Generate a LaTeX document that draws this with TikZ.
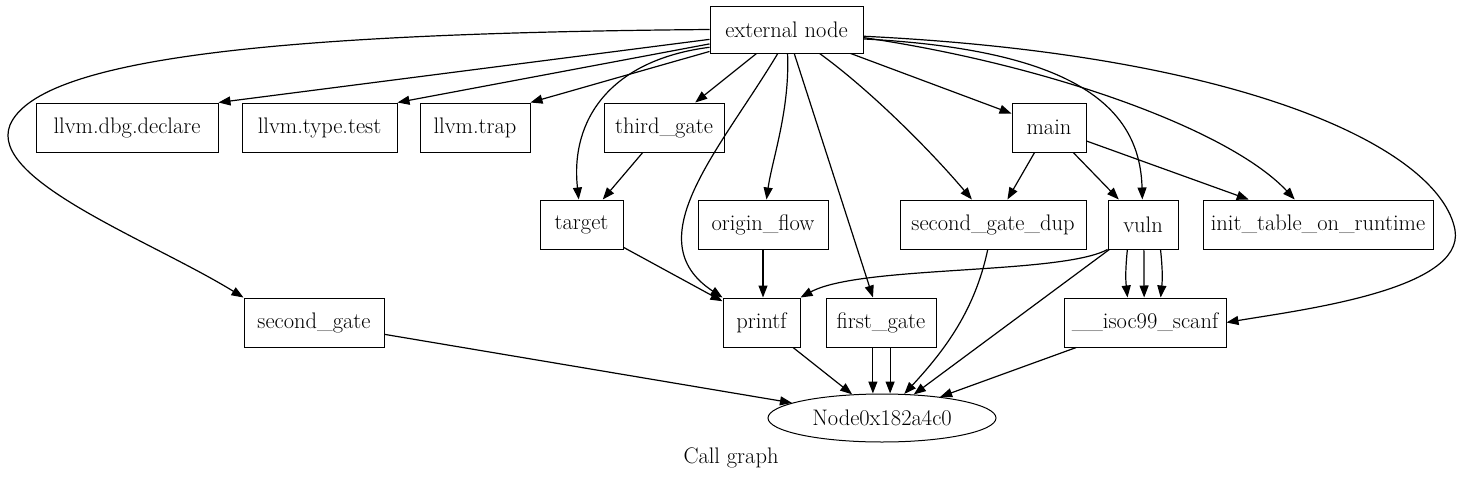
\documentclass[tikz,border=0pt]{standalone}
\usepackage{fontspec}
\usetikzlibrary{positioning}
\usetikzlibrary{shapes.geometric}
\usetikzlibrary{arrows.meta}

\begin{document}
\begin{tikzpicture}[x=1pt, y=-1pt, line width=1.2pt,
		>={Triangle[length=12pt, width=9pt]},
		fnbox/.style={draw, rectangle, line width=1pt, minimum height=49pt, inner sep=0pt, font=\fontsize{22.5}{27}\selectfont},
		call/.style={->}]
				\useasboundingbox (0,0) rectangle (1463,479);
				\node[fnbox, minimum width=153pt, minimum height=47pt] (ext) at (786.5,29.5) {external node};
				\node[fnbox, minimum width=182pt] (dbgdecl) at (127,127.5) {llvm.dbg.declare};
				\node[fnbox, minimum width=155pt] (typetest) at (319.5,127.5) {llvm.type.test};
				\node[fnbox, minimum width=110pt] (trap) at (475,127.5) {llvm.trap};
				\node[fnbox, minimum width=120pt] (thirdgate) at (664,127.5) {third\_gate};
				\node[fnbox, minimum width=74pt] (mainfn) at (1049,127.5) {main};
				\node[fnbox, minimum width=83pt] (target) at (581.5,224.5) {target};
				\node[fnbox, minimum width=130pt] (originflow) at (763,224.5) {origin\_flow};
				\node[fnbox, minimum width=186pt] (sgatedup) at (993,224.5) {second\_gate\_dup};
				\node[fnbox, minimum width=70pt] (vuln) at (1143,224.5) {vuln};
				\node[fnbox, minimum width=230pt] (inittable) at (1318,224.5) {init\_table\_on\_runtime};
				\node[fnbox, minimum width=140pt] (sgate) at (314,322.5) {second\_gate};
				\node[fnbox, minimum width=77pt] (printf) at (761.5,322.5) {printf};
				\node[fnbox, minimum width=110pt] (firstgate) at (881,322.5) {first\_gate};
				\node[fnbox, minimum width=162pt] (scanf) at (1145,322.5) {\_\_isoc99\_scanf};
				\node[draw, ellipse, line width=1pt, minimum width=228pt, minimum height=48pt, inner sep=0pt,
					font=\fontsize{22.5}{27}\selectfont] (sink) at (882,418) {Node0x182a4c0};
				\node[font=\fontsize{22.5}{27}\selectfont] (caption) at (731,458) {Call graph};

				\draw[call] (ext.west) .. controls (300,33) and (40,55) .. (10,125)
					.. controls (-12,180) and (150,240) .. (sgate.north west);
				\draw[call] (ext) -- (dbgdecl.north east);
				\draw[call] (ext) -- (typetest.north east);
				\draw[call] (ext) -- (trap.north east);
				\draw[call] (ext) -- (thirdgate);
				\draw[call] (ext.193) .. controls (610,60) and (570,120) .. (target);
				\draw[call] (ext.250) .. controls (720,150) and (635,240) .. (printf.north west);
				\draw[call] (ext) .. controls (790,110) and (772,160) .. (originflow);
				\draw[call] (ext) -- (firstgate);
				\draw[call] (ext) .. controls (870,90) and (930,150) .. (sgatedup);
				\draw[call] (ext) -- (mainfn);
				\draw[call] (ext.-7) .. controls (1080,50) and (1140,110) .. (vuln);
				\draw[call] (ext.-6) .. controls (1050,65) and (1230,130) .. (inittable);
				\draw[call] (ext.-5) .. controls (1250,55) and (1440,150) .. (1455,230)
					.. controls (1465,290) and (1300,310) .. (scanf.east);

				\draw[call] (mainfn) -- (sgatedup);
				\draw[call] (mainfn) -- (vuln);
				\draw[call] (mainfn) -- (inittable);
				\draw[call] (thirdgate) -- (target);
				\draw[call] (target) -- (printf);
				\draw[call] (originflow.south) -- (originflow.south |- printf.north);
				\draw[call] (vuln.south west) .. controls (1060,275) and (860,265) .. (printf.north east);
				\draw[call] (vuln) -- (sink);
				\draw[call] (vuln.-122) to[bend right=6] (scanf.125);
				\draw[call] (vuln.-88) -- (scanf.92);
				\draw[call] (vuln.-55) to[bend left=6] (scanf.58);
				\draw[call] (sgatedup) .. controls (975,310) and (945,350) .. (sink);
				\draw[call] (sgate) -- (sink);
				\draw[call] (printf) -- (sink);
				\draw[call] (firstgate.-108) -- (firstgate.-108 |- sink.north);
				\draw[call] (firstgate.-70) -- (firstgate.-70 |- sink.north);
				\draw[call] (scanf) -- (sink);
			\end{tikzpicture}
\end{document}
